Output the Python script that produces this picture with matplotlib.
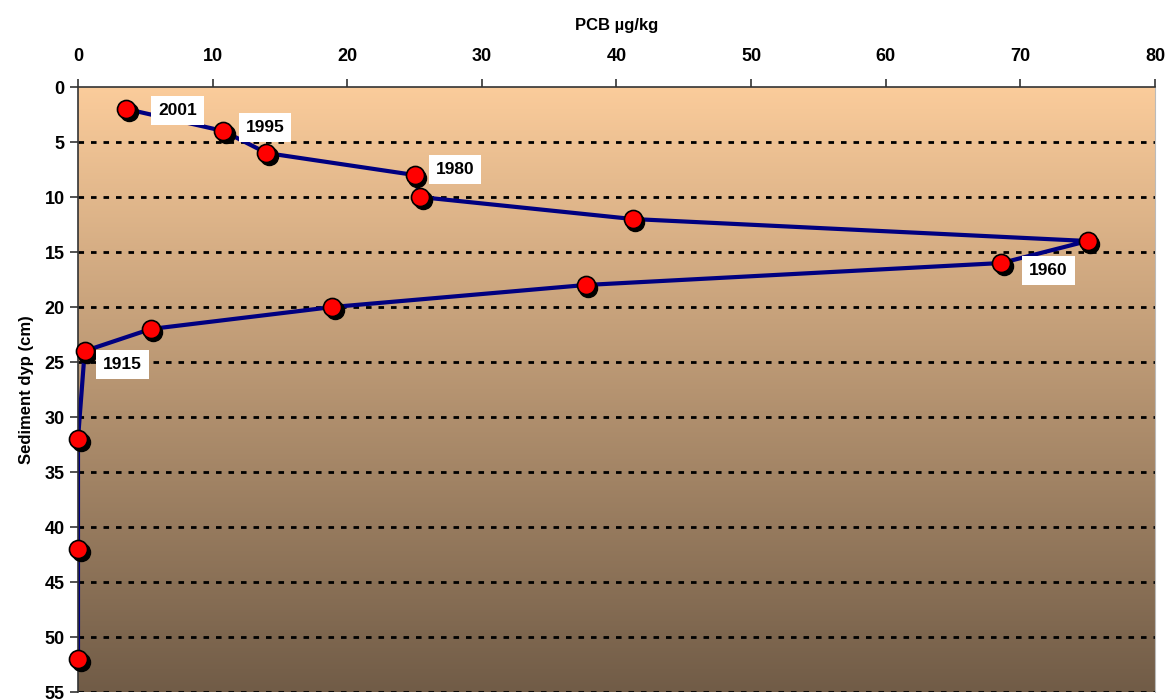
import numpy as np
import matplotlib.pyplot as plt
from matplotlib import transforms

plt.rcParams['font.family'] = ['Liberation Sans', 'DejaVu Sans']
plt.rcParams['font.weight'] = 'bold'

# PCB concentration vs sediment depth
pcb = [3.6, 10.8, 14.0, 25.0, 25.4, 41.2, 75.0, 68.6, 37.7, 18.9, 5.4, 0.5, 0.0, 0.0, 0.0]
depth = [2, 4, 6, 8, 10, 12, 14, 16, 18, 20, 22, 24, 32, 42, 52]

years = ['2001', '1995', '1980', '1960', '1915']
year_x = [7.4, 13.9, 28.0, 72.1, 3.3]
year_y = [2.1, 3.7, 7.5, 16.7, 25.2]

fig = plt.figure(figsize=(11.71, 7), dpi=100)
ax = fig.add_axes([0.0666, 0.0114, 0.9197, 0.8643])

# background gradient peach -> brown
top = np.array([251, 204, 155]) / 255
bot = np.array([113, 92, 71]) / 255
t = np.linspace(0, 1, 256)[:, None]
grad = top * (1 - t[..., None]) + bot * t[..., None]
grad = np.repeat(grad, 2, axis=1)
ax.imshow(grad, extent=[0, 80, 55, 0], aspect='auto', zorder=0, interpolation='bilinear')

for yv in range(5, 56, 5):
    ax.axhline(yv, color='black', lw=2, ls=(0, (2, 2.5)), zorder=1)

ax.plot(pcb, depth, color='#000080', lw=3, zorder=2)
shadow = transforms.offset_copy(ax.transData, fig=fig, x=2, y=-2.5, units='points')
ax.plot(pcb, depth, 'o', ms=13, color='black', transform=shadow, zorder=3, clip_on=False)
ax.plot(pcb, depth, 'o', ms=13, mfc='#ff0000', mec='black', mew=1.2, zorder=4, clip_on=False)

for lab, xv, yv in zip(years, year_x, year_y):
    ax.text(xv, yv, lab, ha='center', va='center', fontsize=12.5, fontweight='bold', zorder=5,
            bbox=dict(boxstyle='square,pad=0.4', fc='white', ec='none'))

ax.set_xlim(0, 80)
ax.set_ylim(55, 0)
ax.set_xticks(range(0, 81, 10))
ax.set_yticks(range(0, 56, 5))
ax.xaxis.tick_top()
ax.xaxis.set_label_position('top')
ax.tick_params(axis='both', labelsize=13, length=6, width=1.2, color='#333333', direction='out')
ax.tick_params(axis='x', pad=10)
ax.set_xlabel('PCB µg/kg', fontsize=12, fontweight='bold', labelpad=13)
ax.set_ylabel('Sediment dyp (cm)', fontsize=12, fontweight='bold', labelpad=8)
for s in ['left', 'top']:
    ax.spines[s].set_color('#333333')
    ax.spines[s].set_linewidth(1.2)
ax.spines['right'].set_color('#bbbbbb')
ax.spines['bottom'].set_visible(False)

fig.savefig('out.png', dpi=100)
